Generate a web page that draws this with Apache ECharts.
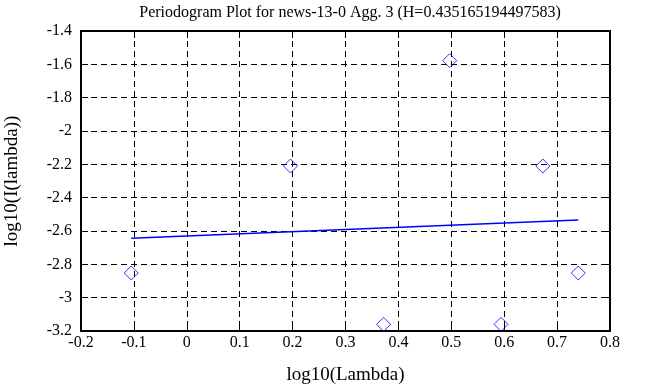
<!DOCTYPE html>
<html>
<head>
<meta charset="utf-8">
<script src="https://cdn.jsdelivr.net/npm/echarts@6/dist/echarts.min.js"></script>
<style>html,body{margin:0;padding:0;background:#fff}#c{width:647px;height:387px}</style>
</head>
<body>
<div id="c"></div>
<script>
var titleText = 'Periodogram Plot for news-13-0 Agg. 3 (H=0.435165194497583)';
var logLambda = [-0.105, 0.196, 0.372, 0.497, 0.594, 0.673, 0.740];
var logI = [-2.852, -2.21, -3.16, -1.578, -3.16, -2.21, -2.852];
var fitLine = [[-0.105, -2.643], [0.740, -2.534]];
var xTicks = {min: -0.2, max: 0.8, interval: 0.1};
var yTicks = {min: -3.2, max: -1.4, interval: 0.2};

var FONT = '"Liberation Serif", "DejaVu Serif", serif';
var chart = echarts.init(document.getElementById('c'));
function fmt(v){ return String(Math.round(v*10)/10); }
var splitDash = {show: true, lineStyle: {color: '#000', type: [6, 4], width: 1}};
var baseAxis = function(extra){
  return Object.assign({
    axisLine: {show: true, onZero: false, lineStyle: {color: '#000', width: 2}},
    axisTick: {show: true, inside: true, length: 7, lineStyle: {color: '#000', width: 1}},
    axisLabel: {color: '#000', fontFamily: FONT, fontSize: 16, formatter: fmt},
    splitLine: {show: false}
  }, extra);
};
chart.setOption({
  animation: false,
  backgroundColor: '#fff',
  title: {text: titleText, left: 345, textAlign: 'center', top: 0,
    textStyle: {fontFamily: FONT, fontSize: 16, fontWeight: 'normal', color: '#000'}},
  grid: {left: 81, right: 37, top: 31, bottom: 56, containLabel: false, outerBoundsMode: 'none'},
  xAxis: [
    baseAxis({type: 'value', position: 'bottom', min: xTicks.min, max: xTicks.max, interval: xTicks.interval,
      name: 'log10(Lambda)', nameLocation: 'middle', nameGap: 35,
      nameTextStyle: {fontFamily: FONT, fontSize: 19, color: '#000'},
      axisLabel: {color: '#000', fontFamily: FONT, fontSize: 16, formatter: fmt, margin: 4},
      splitLine: splitDash}),
    baseAxis({type: 'value', position: 'top', min: xTicks.min, max: xTicks.max, interval: xTicks.interval,
      axisLabel: {show: false}})
  ],
  yAxis: [
    baseAxis({type: 'value', position: 'left', min: yTicks.min, max: yTicks.max, interval: yTicks.interval,
      name: 'log10(I(lambda))', nameLocation: 'middle', nameGap: 59,
      nameTextStyle: {fontFamily: FONT, fontSize: 19, color: '#000'},
      axisLabel: {color: '#000', fontFamily: FONT, fontSize: 16, formatter: fmt, margin: 9},
      splitLine: splitDash}),
    baseAxis({type: 'value', position: 'right', min: yTicks.min, max: yTicks.max, interval: yTicks.interval,
      axisLabel: {show: false}})
  ],
  series: [
    {type: 'scatter', xAxisIndex: 0, yAxisIndex: 0,
      data: logLambda.map(function(x, i){ return [x, logI[i]]; }),
      symbol: 'diamond', symbolSize: 14,
      itemStyle: {color: 'rgba(0,0,0,0)', borderColor: '#0000ff', borderWidth: 1}},
    {type: 'line', xAxisIndex: 0, yAxisIndex: 0, data: fitLine, showSymbol: false, symbol: 'none',
      lineStyle: {color: '#0000ff', width: 1.5}}
  ]
});
</script>
</body>
</html>
